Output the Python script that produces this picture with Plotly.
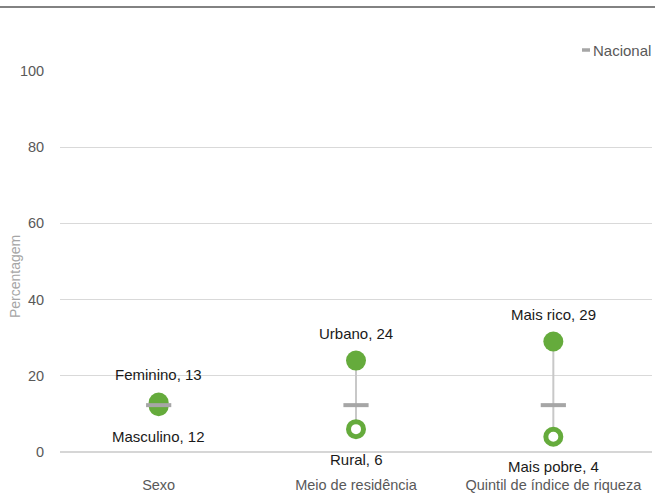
import plotly.graph_objects as go

categories = ["Sexo", "Meio de residência", "Quintil de índice de riqueza"]
high_labels = ["Feminino", "Urbano", "Mais rico"]
high_values = [13, 24, 29]
low_labels = ["Masculino", "Rural", "Mais pobre"]
low_values = [12, 6, 4]
national_values = [12.3, 12.3, 12.3]
y_ticks = [0, 20, 40, 60, 80, 100]

GREEN = "#65AB3C"
GRAY = "#A6A6A6"
TXT = "#595959"
FONT = "Arial"

fig = go.Figure()

# connecting lines
lx, ly = [], []
for c, h, l in zip(categories, high_values, low_values):
    lx += [c, c, None]
    ly += [l, h, None]
fig.add_trace(go.Scatter(x=lx, y=ly, mode="lines", line=dict(color="#C8C8C8", width=2),
                         hoverinfo="skip", showlegend=False))

# low (open circles)
fig.add_trace(go.Scatter(x=categories, y=low_values, mode="markers", showlegend=False,
                         marker=dict(symbol="circle", size=15, color="white",
                                     line=dict(color=GREEN, width=5))))
# high (filled)
fig.add_trace(go.Scatter(x=categories, y=high_values, mode="markers", showlegend=False,
                         marker=dict(symbol="circle", size=20, color=GREEN,
                                     line=dict(width=0))))
# national
fig.add_trace(go.Scatter(x=categories, y=national_values, mode="markers", name="Nacional",
                         showlegend=False,
                         marker=dict(symbol="line-ew", size=18,
                                     line=dict(color=GRAY, width=4))))

annotations = []
for c, lab, v in zip(categories, high_labels, high_values):
    annotations.append(dict(x=c, y=v, text=f"{lab}, {v}", showarrow=False, yshift=27.5,
                            font=dict(size=15, color="#1a1a1a", family=FONT)))
for c, lab, v in zip(categories, low_labels, low_values):
    annotations.append(dict(x=c, y=v, text=f"{lab}, {v}", showarrow=False, yshift=-30,
                            font=dict(size=15, color="#1a1a1a", family=FONT)))

# axis title
annotations.append(dict(xref="paper", yref="paper", x=(15 - 60) / 592, y=(452 - 277) / 381,
                        xanchor="center", yanchor="middle",
                        text="Percentagem", textangle=-90, showarrow=False,
                        font=dict(size=14, color=GRAY, family=FONT)))
# legend text
annotations.append(dict(xref="paper", yref="paper", x=(593 - 60) / 592, y=(452 - 50) / 381,
                        xanchor="left", yanchor="middle", text="Nacional", showarrow=False,
                        xshift=-2,
                        font=dict(size=15, color=TXT, family=FONT)))

shapes = [
    dict(type="line", xref="paper", yref="paper", x0=-60 / 592, x1=(655 - 60) / 592,
         y0=(452 - 7) / 381, y1=(452 - 7) / 381, line=dict(color="#595959", width=1.5)),
    dict(type="line", xref="paper", yref="paper", x0=(582 - 60) / 592, x1=(590 - 60) / 592,
         y0=(452 - 50) / 381, y1=(452 - 50) / 381, line=dict(color=GRAY, width=3.5)),
]

fig.update_layout(
    width=655, height=493,
    margin=dict(l=60, r=3, t=71, b=41, autoexpand=False),
    paper_bgcolor="white", plot_bgcolor="white",
    font=dict(family=FONT, color=TXT, size=13),
    annotations=annotations, shapes=shapes,
    showlegend=False,
    xaxis=dict(type="category", categoryorder="array", categoryarray=categories,
               range=[-0.5, 2.5], showgrid=False, zeroline=False, showline=False,
               automargin=False,
               ticks="outside", ticklen=20, tickcolor="rgba(0,0,0,0)",
               tickfont=dict(size=14.5, color=TXT, family=FONT)),
    yaxis=dict(range=[0, 100], tickvals=y_ticks, showgrid=True, gridcolor="#D9D9D9",
               gridwidth=1, zeroline=True, zerolinecolor="#D6D6D6", zerolinewidth=2,
               showline=False, automargin=False,
               ticks="outside", ticklen=12, tickcolor="rgba(0,0,0,0)",
               tickfont=dict(size=14.5, color=TXT, family=FONT)),
)

fig.write_html("out.html", config={"displayModeBar": False},
               post_script="document.body.style.margin='0';document.body.style.padding='0';")
